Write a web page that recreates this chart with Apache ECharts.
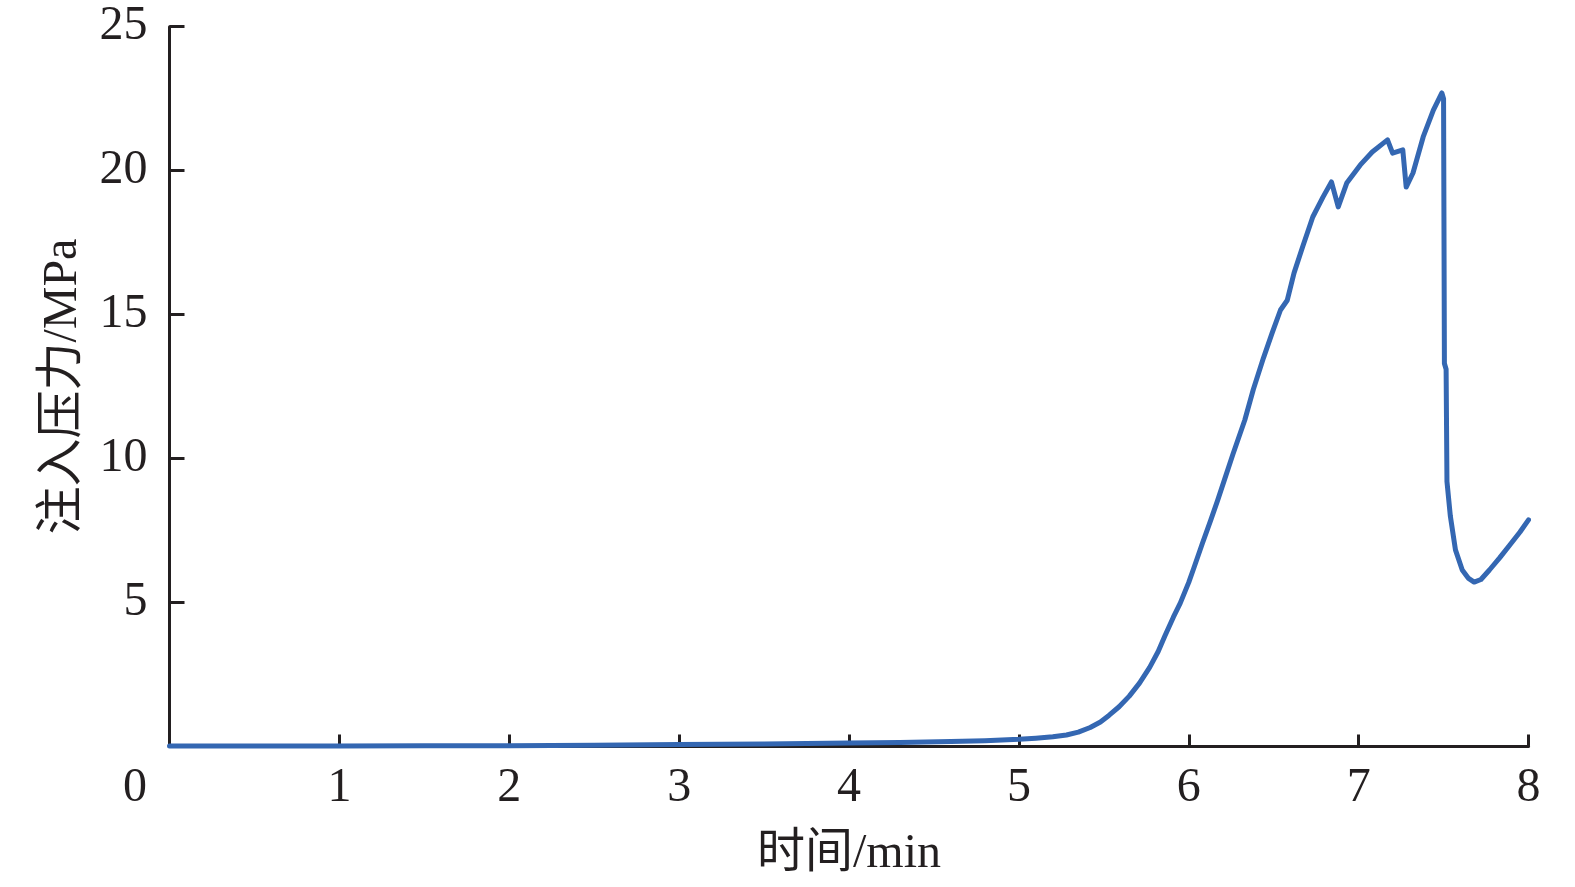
<!DOCTYPE html>
<html>
<head>
<meta charset="utf-8">
<script src="https://cdn.jsdelivr.net/npm/echarts@6/dist/echarts.min.js"></script>
<style>
html,body{margin:0;padding:0;background:#fff;}
#chart{width:1575px;height:887px;}
</style>
</head>
<body>
<div id="chart"></div>
<script>
// time (min)
var timeMin = [0, 0.5, 1, 1.5, 2, 2.5, 3, 3.5, 4, 4.3, 4.6, 4.8, 5.0, 5.1, 5.2, 5.28, 5.35, 5.42, 5.48, 5.53, 5.59, 5.65, 5.71, 5.77, 5.82, 5.86, 5.91, 5.95, 6.0, 6.03, 6.08, 6.13, 6.17, 6.21, 6.26, 6.33, 6.38, 6.44, 6.49, 6.54, 6.58, 6.62, 6.67, 6.73, 6.79, 6.84, 6.88, 6.93, 7.01, 7.08, 7.17, 7.20, 7.26, 7.28, 7.32, 7.38, 7.44, 7.49, 7.50, 7.505, 7.515, 7.52, 7.54, 7.57, 7.61, 7.645, 7.68, 7.72, 7.77, 7.83, 7.89, 7.95, 8.0];
// injection pressure (MPa)
var pressureMPa = [0.02, 0.02, 0.02, 0.03, 0.03, 0.04, 0.07, 0.09, 0.12, 0.14, 0.17, 0.2, 0.25, 0.29, 0.34, 0.4, 0.5, 0.66, 0.85, 1.08, 1.38, 1.75, 2.2, 2.75, 3.3, 3.85, 4.5, 4.98, 5.7, 6.2, 7.05, 7.87, 8.55, 9.26, 10.15, 11.34, 12.4, 13.5, 14.35, 15.16, 15.5, 16.45, 17.35, 18.39, 19.08, 19.61, 18.74, 19.57, 20.2, 20.65, 21.07, 20.61, 20.72, 19.43, 19.92, 21.17, 22.1, 22.7, 22.5, 13.3, 13.1, 9.2, 8.0, 6.83, 6.13, 5.85, 5.71, 5.8, 6.13, 6.55, 7.0, 7.45, 7.87];
var xTicks = [0, 1, 2, 3, 4, 5, 6, 7, 8];
var yTicks = [0, 5, 10, 15, 20, 25];
var xName = '时间/min';
var yName = '注入压力/MPa';

var FONT = '"Liberation Serif", "Times New Roman", "Noto Sans CJK SC", serif';
var INK = '#231f20';

var seriesData = timeMin.map(function (t, i) { return [t, pressureMPa[i]]; });

var chart = echarts.init(document.getElementById('chart'));
chart.setOption({
  backgroundColor: '#ffffff',
  animation: false,
  grid: { left: 169.5, right: 46.5, top: 26.7, bottom: 140.5, containLabel: false },
  xAxis: {
    type: 'value',
    min: xTicks[0], max: xTicks[xTicks.length - 1], interval: 1,
    name: xName, nameLocation: 'middle', nameGap: 84,
    nameTextStyle: { fontFamily: FONT, fontSize: 48, color: INK },
    axisLine: { show: true, onZero: false, lineStyle: { color: INK, width: 3 } },
    axisTick: { show: true, inside: true, length: 12, lineStyle: { color: INK, width: 3 } },
    splitLine: { show: false },
    axisLabel: {
      fontFamily: FONT, fontSize: 48, color: INK, margin: 18,
      showMinLabel: true, showMaxLabel: true,
      formatter: function (v) { return v === 0 ? '{z|0}' : String(v); },
      rich: { z: { fontFamily: FONT, fontSize: 48, color: INK, padding: [0, 69, 0, 0] } }
    }
  },
  yAxis: {
    type: 'value',
    min: yTicks[0], max: yTicks[yTicks.length - 1], interval: 5,
    name: yName, nameLocation: 'middle', nameGap: 82, nameRotate: 90,
    nameTextStyle: { fontFamily: FONT, fontSize: 48, color: INK },
    axisLine: { show: true, lineStyle: { color: INK, width: 3 } },
    axisTick: { show: true, inside: true, length: 15, lineStyle: { color: INK, width: 3 } },
    splitLine: { show: false },
    axisLabel: {
      fontFamily: FONT, fontSize: 48, color: INK, margin: 22,
      formatter: function (v) { return v === 0 ? '' : String(v); }
    }
  },
  series: [{
    type: 'line',
    data: seriesData,
    showSymbol: false,
    smooth: false,
    lineStyle: { color: '#3467b2', width: 5, join: 'round', cap: 'round' },
    itemStyle: { color: '#3467b2' },
    z: 1
  }]
});
</script>
</body>
</html>
